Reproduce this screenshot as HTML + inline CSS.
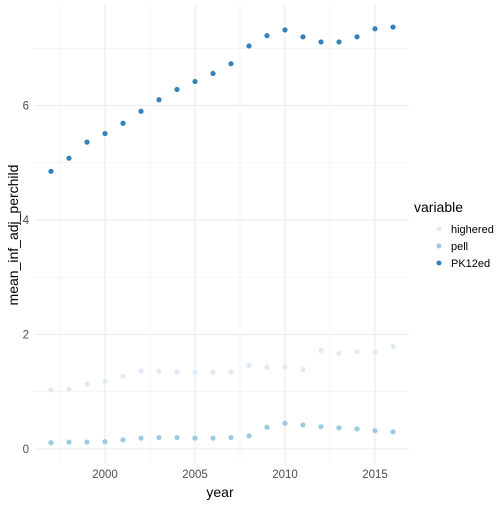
<!DOCTYPE html>
<html><head><meta charset="utf-8"><style>
body{margin:0;background:#fff;font-family:"Liberation Sans",sans-serif}
</style></head><body>
<svg id="chart" width="504" height="504" xmlns="http://www.w3.org/2000/svg">
<g id="grid"></g>
<g id="pts"></g>
<g id="axes"></g>
<text x="220" y="497" text-anchor="middle" font-size="14" fill="#000">year</text>
<text transform="translate(18,235) rotate(-90)" text-anchor="middle" font-size="14" fill="#000">mean_inf_adj_perchild</text>
<g>
<text x="414" y="212" font-size="14">variable</text>
<circle cx="439" cy="229" r="2.5" fill="#deebf7"/>
<text x="451" y="233" font-size="11">highered</text>
<circle cx="439" cy="246" r="2.5" fill="#9ecae1"/>
<text x="451" y="250" font-size="11">pell</text>
<circle cx="439" cy="263" r="2.5" fill="#3182bd"/>
<text x="451" y="267" font-size="11">PK12ed</text>
</g>
</svg>
<script>
const years=[1997,1998,1999,2000,2001,2002,2003,2004,2005,2006,2007,2008,2009,2010,2011,2012,2013,2014,2015,2016];
const pk12ed=[4.85,5.08,5.36,5.51,5.69,5.90,6.10,6.28,6.42,6.56,6.73,7.04,7.22,7.32,7.20,7.11,7.11,7.20,7.34,7.37];
const highered=[1.03,1.04,1.13,1.18,1.27,1.36,1.36,1.34,1.34,1.34,1.34,1.46,1.43,1.43,1.39,1.72,1.67,1.70,1.69,1.79];
const pell=[0.11,0.12,0.12,0.13,0.16,0.19,0.20,0.20,0.19,0.19,0.20,0.23,0.38,0.45,0.42,0.39,0.37,0.35,0.32,0.30];
const xTicks=[2000,2005,2010,2015];
const yTicks=[0,2,4,6];
const X=v=>105+(v-2000)*18;
const Y=v=>449-(v)*57.25;
const NS="http://www.w3.org/2000/svg";
const L=34,R=409,T=5,B=463;
const grid=document.getElementById('grid'),axes=document.getElementById('axes'),pts=document.getElementById('pts');
function ln(x1,y1,x2,y2,w){const l=document.createElementNS(NS,'line');l.setAttribute('x1',x1);l.setAttribute('y1',y1);l.setAttribute('x2',x2);l.setAttribute('y2',y2);l.setAttribute('stroke','#ebebeb');l.setAttribute('stroke-width',w);grid.appendChild(l);return l;}
for(let v=-1;v<=8;v++){const y=Y(v);if(y<T||y>B)continue;const l=ln(L,y,R,y,v%2===0?1.1:0.5);

}
for(let v=1995;v<=2020;v+=2.5){const x=X(v);if(x<L||x>R)continue;const l=ln(x,T,x,B,v%5===0?1.1:0.5);

}
xTicks.forEach(t=>{const e=document.createElementNS(NS,'text');e.setAttribute('x',X(t));e.setAttribute('y',478);e.setAttribute('text-anchor','middle');e.setAttribute('font-size','11.5');e.setAttribute('fill','#4d4d4d');e.textContent=t;


axes.appendChild(e);});
yTicks.forEach(t=>{const e=document.createElementNS(NS,'text');e.setAttribute('x',29);e.setAttribute('y',Y(t)+4);e.setAttribute('text-anchor','end');e.setAttribute('font-size','11.5');e.setAttribute('fill','#4d4d4d');e.textContent=t;


axes.appendChild(e);});
function series(arr,col,name){arr.forEach((v,i)=>{const c=document.createElementNS(NS,'circle');c.setAttribute('cx',X(years[i]));c.setAttribute('cy',Y(v));c.setAttribute('r',2.6);c.setAttribute('fill',col);


pts.appendChild(c);});}
series(highered,'#deebf7','highered');
series(pell,'#9ecae1','pell');
series(pk12ed,'#3182bd','pk12ed');
</script>
</body></html>
